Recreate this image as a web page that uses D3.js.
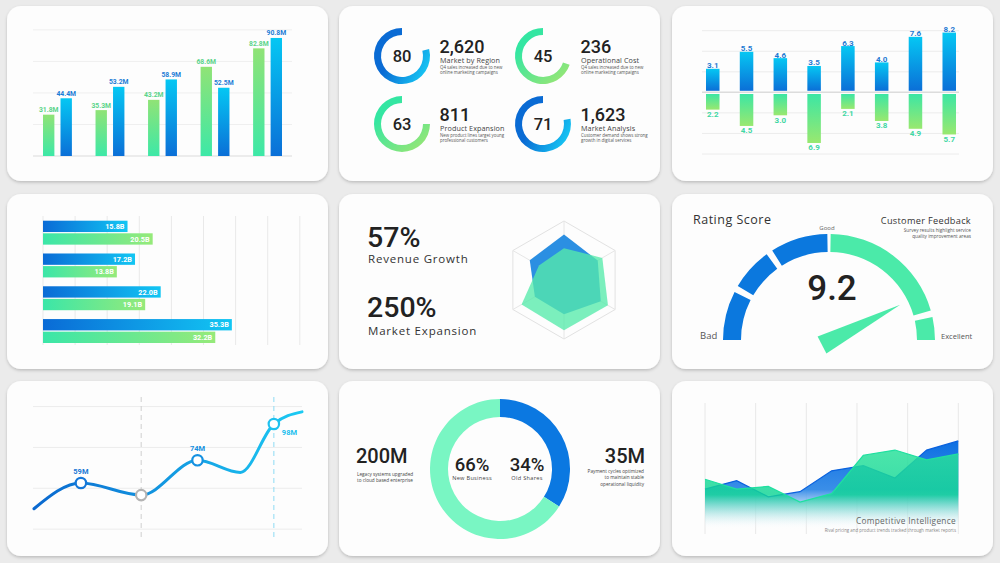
<!DOCTYPE html>
<html>
<head>
<meta charset="utf-8">
<script src="https://cdn.jsdelivr.net/npm/d3@7"></script>
<style>
  html, body { margin: 0; padding: 0; background: #ebebeb; }
  svg { display: block; font-family: 'Open Sans', sans-serif; }
</style>
</head>
<body>
<script>
// ---- panel 1: grouped bars
const salesGroups = ['2019', '2020', '2021', '2022', '2023'];
const salesGreen = [31.8, 35.3, 43.2, 68.6, 82.8];
const salesBlue = [44.4, 53.2, 58.9, 52.5, 90.8];
const salesGrid = [0, 24.25, 48.5, 72.75, 97];

// ---- panel 2: kpi rings
const kpiScores = [80, 45, 63, 71];
const kpiRing = [0.79, 0.70, 0.75, 0.78];
const kpiTotals = ['2,620', '236', '811', '1,623'];
const kpiTitles = ['Market by Region', 'Operational Cost', 'Product Expansion', 'Market Analysis'];
const kpiNotes = [
  ['Q4 sales increased due to new', 'online marketing campaigns'],
  ['Q4 sales increased due to new', 'online marketing campaigns'],
  ['New product lines target young', 'professional customers'],
  ['Customer demand shows strong', 'growth in digital services']
];
const kpiTones = ['blue', 'green', 'green', 'blue'];

// ---- panel 3: up / down bars
const splitCats = ['A', 'B', 'C', 'D', 'E', 'F', 'G', 'H'];
const splitUp = [3.1, 5.5, 4.6, 3.5, 6.3, 4.0, 7.6, 8.2];
const splitDown = [2.2, 4.5, 3.0, 6.9, 2.1, 3.8, 4.9, 5.7];
const splitGrid = [-3, -2, -1, 0, 1, 2, 3];

// ---- panel 4: horizontal bars
const rangeCats = ['A', 'B', 'C', 'D'];
const rangeBlue = [15.8, 17.2, 22.0, 35.3];
const rangeGreen = [20.5, 13.8, 19.1, 32.2];
const rangeTicks = [0, 6, 12, 18, 24, 30, 36, 42, 48];

// ---- panel 5: stats + radar
const statValues = ['57%', '250%'];
const statLabels = ['Revenue Growth', 'Market Expansion'];
const radarBlue = [0.77, 0.66, 0.72, 0.58, 0.57, 0.67];
const radarGreen = [0.54, 0.75, 0.86, 0.85, 0.83, 0.49];

// ---- panel 6: gauge
const ratingScore = 9.2;
const ratingSegments = [[0, 1.5], [1.7, 3.0], [3.2, 4.95], [5.05, 9.1], [9.3, 10]];
const ratingTones = ['blue', 'blue', 'blue', 'green', 'green'];

// ---- panel 7: smooth line
const trendX = [0, 1.75, 4, 6.1, 7.7, 8.95, 10];
const trendY = [42, 59, 51, 74, 66, 98, 106];
const trendLabels = ['', '59M', '', '74M', '', '98M', ''];
const trendMarkers = [1, 2, 3, 5];
const trendGuides = [4, 8.95];
const trendGrid = [28.5, 55.5, 82.5, 109.5];

// ---- panel 8: donut
const shareNames = ['Old Shares', 'New Business'];
const shareValues = [34, 66];

// ---- panel 9: areas
const rivalX = [0, 1, 2, 3, 4, 5, 6, 7, 8];
const rivalBlue = [31.5, 38, 25.5, 29.5, 45.5, 49.5, 40, 61.5, 68.5];
const rivalGreen = [39, 31.5, 33.5, 21.5, 28, 57.5, 61.5, 54, 58.5];
const rivalGrid = [0, 1.6, 3.2, 4.8, 6.4, 8];

const NUM = 'Roboto, sans-serif';
const BLUE = '#0b78de';
const GREEN = '#4beaa9';

const svg = d3.select('body').append('svg')
    .attr('width', 1000)
    .attr('height', 563);
const defs = svg.append('defs');

function grad(id, stops, x1, y1, x2, y2, units) {
  const g = defs.append('linearGradient').attr('id', id)
      .attr('x1', x1).attr('y1', y1).attr('x2', x2).attr('y2', y2);
  if (units) g.attr('gradientUnits', units);
  stops.forEach(s => g.append('stop').attr('offset', s[0]).attr('stop-color', s[1])
      .attr('stop-opacity', s[2] === undefined ? 1 : s[2]));
}
grad('barGreenV', [[0, '#90e376'], [1, '#3de8a7']], 0, 0, 0, 1);
grad('barBlueV', [[0, '#05c7f3'], [1, '#0b6fd7']], 0, 0, 0, 1);
grad('downGreenV', [[0, '#3ce6a4'], [1, '#99e86f']], 0, 0, 0, 1);
grad('hBlue', [[0, '#0a6bd6'], [1, '#12c6f3']], 0, 0, 1, 0);
grad('hGreen', [[0, '#3be6a8'], [1, '#96ea7a']], 0, 0, 1, 0);
grad('ringBlue', [[0, '#0a6bd4'], [1, '#16c2f2']], 0.4, 0.3, 1, 0.6);
grad('ringGreen', [[0, '#34e6a2'], [1, '#96e676']], 0.3, 0.2, 0.9, 0.9);
grad('trendLine', [[0, '#0a68cf'], [1, '#1ccaf3']], 34, 0, 302, 0, 'userSpaceOnUse');
grad('rivalBlueFill', [[0, '#0c6fe2'], [0.55, '#3a8ee8'], [1, '#ffffff', 0]], 0, 440, 0, 530, 'userSpaceOnUse');
grad('rivalGreenFill', [[0, '#2ee39c', 0.85], [0.6, '#0fd595', 0.82], [1, '#ffffff', 0]], 0, 445, 0, 528, 'userSpaceOnUse');

const shadow = defs.append('filter').attr('id', 'shadow')
    .attr('x', -0.05).attr('y', -0.05).attr('width', 1.1).attr('height', 1.15);
shadow.append('feDropShadow').attr('dx', 0).attr('dy', 1.5)
    .attr('stdDeviation', 1.8).attr('flood-color', '#000').attr('flood-opacity', 0.2);

// cards
const cardCols = [7, 339, 672];
const cardRows = [6, 194, 381];
cardRows.forEach(y => cardCols.forEach(x => {
  svg.append('rect')
      .attr('x', x).attr('y', y).attr('width', 321).attr('height', 175)
      .attr('rx', 14).attr('fill', '#fdfdfd').attr('filter', 'url(#shadow)');
}));

// ================= panel 1 =================
const p1 = svg.append('g');
const p1x0 = d3.scaleBand().domain(salesGroups).range([43, 282]).paddingInner(0.45).paddingOuter(0);
const p1x1 = d3.scaleBand().domain(['green', 'blue']).range([0, p1x0.bandwidth()]).paddingInner(0.35);
const p1y = d3.scaleLinear().domain([0, 100]).range([156, 26]);

p1.selectAll('line.grid').data(salesGrid).enter().append('line')
    .attr('x1', 33).attr('x2', 292)
    .attr('y1', d => p1y(d)).attr('y2', d => p1y(d))
    .attr('stroke', d => d === 0 ? '#e6e6e6' : '#efefef')
    .attr('stroke-width', d => d === 0 ? 1.5 : 1);

const salesBars = [];
salesGroups.forEach((g, i) => {
  salesBars.push({ g, key: 'green', v: salesGreen[i] });
  salesBars.push({ g, key: 'blue', v: salesBlue[i] });
});
p1.selectAll('rect').data(salesBars).enter().append('rect')
    .attr('x', d => p1x0(d.g) + p1x1(d.key))
    .attr('y', d => p1y(d.v))
    .attr('width', p1x1.bandwidth())
    .attr('height', d => p1y(0) - p1y(d.v))
    .attr('fill', d => d.key === 'green' ? 'url(#barGreenV)' : 'url(#barBlueV)');
p1.selectAll('text').data(salesBars).enter().append('text')
    .attr('x', d => p1x0(d.g) + p1x1(d.key) + p1x1.bandwidth() / 2)
    .attr('y', d => p1y(d.v) - 2.5)
    .attr('text-anchor', 'middle')
    .attr('font-family', NUM).attr('font-weight', 700).attr('font-size', 6.8)
    .attr('fill', d => d.key === 'green' ? '#5ad489' : '#1c7cd6')
    .text(d => d.v.toFixed(1) + 'M');

// ================= panel 2 =================
const p2 = svg.append('g');
const kpiCenters = [[402, 56], [543, 56], [402, 124], [543, 124]];
const ring = d3.arc().innerRadius(21).outerRadius(28);
kpiScores.forEach((score, i) => {
  const [cx, cy] = kpiCenters[i];
  const g = p2.append('g').attr('transform', `translate(${cx},${cy})`);
  g.append('path')
      .attr('d', ring({ startAngle: 2 * Math.PI * (1 - kpiRing[i]), endAngle: 2 * Math.PI }))
      .attr('fill', kpiTones[i] === 'blue' ? 'url(#ringBlue)' : 'url(#ringGreen)');
  g.append('text').attr('text-anchor', 'middle').attr('dy', '0.36em')
      .attr('font-family', NUM).attr('font-weight', 500).attr('font-size', 16.5)
      .attr('fill', '#222').text(score);
  g.append('text').attr('x', 37.5).attr('y', -3.5)
      .attr('font-family', NUM).attr('font-weight', 500).attr('font-size', 18)
      .attr('fill', '#222').text(kpiTotals[i]);
  g.append('text').attr('x', 38).attr('y', 7)
      .attr('font-size', 7.2).attr('letter-spacing', 0.1).attr('fill', '#444')
      .text(kpiTitles[i]);
  kpiNotes[i].forEach((t, j) => {
    g.append('text').attr('x', 38).attr('y', 12.8 + j * 4.9)
        .attr('font-size', 4.4).attr('fill', '#555').text(t);
  });
});

// ================= panel 3 =================
const p3 = svg.append('g');
const p3x = d3.scaleBand().domain(splitCats).range([706, 956]).paddingInner(0.6).paddingOuter(0);
const p3up = d3.scaleLinear().domain([0, 10]).range([90.8, 19.8]);
const p3down = d3.scaleLinear().domain([0, 10]).range([94, 165]);
const p3grid = d3.scaleLinear().domain([-3, 3]).range([154, 30.7]);

p3.selectAll('line').data(splitGrid).enter().append('line')
    .attr('x1', 702).attr('x2', 959)
    .attr('y1', d => p3grid(d)).attr('y2', d => p3grid(d))
    .attr('stroke', d => d === 0 ? '#dcdcdc' : '#ececec')
    .attr('stroke-width', d => d === 0 ? 1.5 : 1);

p3.selectAll('rect.up').data(splitUp).enter().append('rect')
    .attr('x', (d, i) => p3x(splitCats[i]))
    .attr('y', d => p3up(d))
    .attr('width', p3x.bandwidth())
    .attr('height', d => p3up(0) - p3up(d))
    .attr('fill', 'url(#barBlueV)');
p3.selectAll('rect.down').data(splitDown).enter().append('rect')
    .attr('x', (d, i) => p3x(splitCats[i]))
    .attr('y', p3down(0))
    .attr('width', p3x.bandwidth())
    .attr('height', d => p3down(d) - p3down(0))
    .attr('fill', 'url(#downGreenV)');
p3.selectAll('text.up').data(splitUp).enter().append('text')
    .attr('x', (d, i) => p3x(splitCats[i]) + p3x.bandwidth() / 2)
    .attr('y', d => p3up(d) - 0.5)
    .attr('text-anchor', 'middle')
    .attr('font-family', NUM).attr('font-weight', 700).attr('font-size', 8)
    .attr('fill', '#1d79d3').text(d => d.toFixed(1));
p3.selectAll('text.down').data(splitDown).enter().append('text')
    .attr('x', (d, i) => p3x(splitCats[i]) + p3x.bandwidth() / 2)
    .attr('y', d => p3down(d) + 7.5)
    .attr('text-anchor', 'middle')
    .attr('font-family', NUM).attr('font-weight', 700).attr('font-size', 8)
    .attr('fill', '#3fd7a3').text(d => d.toFixed(1));

// ================= panel 4 =================
const p4 = svg.append('g');
const p4x = d3.scaleLinear().domain([0, 48]).range([43, 299.8]);
const p4y0 = d3.scaleBand().domain(rangeCats).range([220.7, 343]).paddingInner(0.27).paddingOuter(0);
const p4y1 = d3.scaleBand().domain(['blue', 'green']).range([0, p4y0.bandwidth()]).paddingInner(0.1);

p4.selectAll('line').data(rangeTicks).enter().append('line')
    .attr('x1', d => p4x(d)).attr('x2', d => p4x(d))
    .attr('y1', 216).attr('y2', 345)
    .attr('stroke', '#e9e9e9');

const rangeBars = [];
rangeCats.forEach((c, i) => {
  rangeBars.push({ c, key: 'blue', v: rangeBlue[i] });
  rangeBars.push({ c, key: 'green', v: rangeGreen[i] });
});
p4.selectAll('rect').data(rangeBars).enter().append('rect')
    .attr('x', p4x(0))
    .attr('y', d => p4y0(d.c) + p4y1(d.key))
    .attr('width', d => p4x(d.v) - p4x(0))
    .attr('height', p4y1.bandwidth())
    .attr('fill', d => d.key === 'blue' ? 'url(#hBlue)' : 'url(#hGreen)');
p4.selectAll('text').data(rangeBars).enter().append('text')
    .attr('x', d => p4x(d.v) - 3)
    .attr('y', d => p4y0(d.c) + p4y1(d.key) + p4y1.bandwidth() / 2)
    .attr('dy', '0.36em')
    .attr('text-anchor', 'end')
    .attr('font-family', NUM).attr('font-weight', 700).attr('font-size', 7.3)
    .attr('fill', '#fff').text(d => d.v.toFixed(1) + 'B');

// ================= panel 5 =================
const p5 = svg.append('g');
statValues.forEach((v, i) => {
  p5.append('text').attr('x', 367).attr('y', 246.5 + i * 70.5)
      .attr('font-family', NUM).attr('font-weight', 500).attr('font-size', 28.5)
      .attr('fill', '#222').text(v);
  p5.append('text').attr('x', 368).attr('y', 263 + i * 71.5)
      .attr('font-size', 11.5).attr('letter-spacing', 0.8)
      .attr('fill', '#333').text(statLabels[i]);
});
const radarC = [564, 280];
const radarR = d3.scaleLinear().domain([0, 1]).range([0, 59]);
const radarPoint = (v, k) => {
  const a = k * Math.PI / 3;
  return [radarC[0] + radarR(v) * Math.sin(a), radarC[1] - radarR(v) * Math.cos(a)];
};
const hexOuter = d3.range(6).map(k => radarPoint(1, k));
p5.append('polygon').attr('points', hexOuter.map(p => p.join(',')).join(' '))
    .attr('fill', 'none').attr('stroke', '#e2e2e2').attr('stroke-width', 1);
p5.selectAll('line.spoke').data(hexOuter).enter().append('line')
    .attr('x1', radarC[0]).attr('y1', radarC[1])
    .attr('x2', d => d[0]).attr('y2', d => d[1])
    .attr('stroke', '#e6e6e6');
p5.append('polygon')
    .attr('points', radarBlue.map((v, k) => radarPoint(v, k).join(',')).join(' '))
    .attr('fill', '#2b8fe2');
p5.append('polygon')
    .attr('points', radarGreen.map((v, k) => radarPoint(v, k).join(',')).join(' '))
    .attr('fill', '#56ebab').attr('fill-opacity', 0.78);

// ================= panel 6 =================
const p6 = svg.append('g');
const gaugeC = [829, 340];
const gaugeA = d3.scaleLinear().domain([0, 10]).range([-Math.PI / 2, Math.PI / 2]);
const needleSweep = d3.scaleLinear().domain([0, 10]).range([-90, 76]);
const gaugeArc = d3.arc().innerRadius(88).outerRadius(106);
p6.selectAll('path.seg').data(ratingSegments).enter().append('path')
    .attr('transform', `translate(${gaugeC})`)
    .attr('d', d => gaugeArc({ startAngle: gaugeA(d[0]), endAngle: gaugeA(d[1]) }))
    .attr('fill', (d, i) => ratingTones[i] === 'blue' ? BLUE : GREEN);

const na = needleSweep(ratingScore) * Math.PI / 180;
const pivot = [gaugeC[0] - 7, gaugeC[1] + 5];
const tip = [pivot[0] + 88 * Math.sin(na), pivot[1] - 88 * Math.cos(na)];
const baseA = [pivot[0] + 9.6 * Math.cos(na), pivot[1] + 9.6 * Math.sin(na)];
const baseB = [pivot[0] - 9.6 * Math.cos(na), pivot[1] - 9.6 * Math.sin(na)];
p6.append('polygon').attr('points', [tip, baseA, baseB].map(p => p.join(',')).join(' '))
    .attr('fill', GREEN);

p6.append('text').attr('x', 832).attr('y', 300).attr('text-anchor', 'middle')
    .attr('font-family', NUM).attr('font-weight', 500).attr('font-size', 35)
    .attr('fill', '#222').text(ratingScore.toFixed(1));
p6.append('text').attr('x', 693).attr('y', 224)
    .attr('font-size', 12.5).attr('letter-spacing', 0.5).attr('fill', '#333').text('Rating Score');
p6.append('text').attr('x', 971).attr('y', 224).attr('text-anchor', 'end')
    .attr('font-size', 9.2).attr('letter-spacing', 0.3).attr('fill', '#333').text('Customer Feedback');
['Survey results highlight service', 'quality improvement areas'].forEach((t, j) => {
  p6.append('text').attr('x', 971).attr('y', 231.5 + j * 6).attr('text-anchor', 'end')
      .attr('font-size', 4.7).attr('fill', '#555').text(t);
});
p6.append('text').attr('x', 827).attr('y', 229.5).attr('text-anchor', 'middle')
    .attr('font-size', 6).attr('fill', '#666').text('Good');
p6.append('text').attr('x', 700).attr('y', 339)
    .attr('font-size', 9.5).attr('fill', '#555').text('Bad');
p6.append('text').attr('x', 941).attr('y', 339)
    .attr('font-size', 7.5).attr('fill', '#555').text('Excellent');

// ================= panel 7 =================
const p7 = svg.append('g');
const p7x = d3.scaleLinear().domain([0, 10]).range([34, 302]);
const p7y = d3.scaleLinear().domain([59, 98]).range([483, 424]);
p7.selectAll('line.grid').data(trendGrid).enter().append('line')
    .attr('x1', 33).attr('x2', 302)
    .attr('y1', d => p7y(d)).attr('y2', d => p7y(d))
    .attr('stroke', '#ececec');
p7.selectAll('line.guide').data(trendGuides).enter().append('line')
    .attr('x1', d => p7x(d)).attr('x2', d => p7x(d))
    .attr('y1', 397).attr('y2', 537)
    .attr('stroke', (d, i) => i === 0 ? '#cfcfcf' : '#8edcf4')
    .attr('stroke-dasharray', '5,4');
const trendPts = trendX.map((x, i) => [x, trendY[i]]);
p7.append('path')
    .attr('d', d3.line().x(d => p7x(d[0])).y(d => p7y(d[1])).curve(d3.curveMonotoneX)(trendPts))
    .attr('fill', 'none').attr('stroke', 'url(#trendLine)')
    .attr('stroke-width', 3).attr('stroke-linecap', 'round');
const markerColors = ['#1577d8', '#b3b3b3', '#1591e1', '#1fc1ef'];
p7.selectAll('circle').data(trendMarkers).enter().append('circle')
    .attr('cx', i => p7x(trendX[i])).attr('cy', i => p7y(trendY[i]))
    .attr('r', 5.2).attr('fill', '#fff')
    .attr('stroke', (i, k) => markerColors[k]).attr('stroke-width', 2.2);
p7.selectAll('text').data(trendMarkers.filter(i => trendLabels[i])).enter().append('text')
    .attr('x', i => trendY[i] > 90 ? p7x(trendX[i]) + 8 : p7x(trendX[i]))
    .attr('y', i => trendY[i] > 90 ? p7y(trendY[i]) + 10.5 : p7y(trendY[i]) - 9)
    .attr('text-anchor', i => trendY[i] > 90 ? 'start' : 'middle')
    .attr('font-family', NUM).attr('font-weight', 700).attr('font-size', 7.5)
    .attr('fill', i => trendY[i] > 90 ? '#22c0ee' : (trendY[i] > 70 ? '#1590e0' : '#1a78d6'))
    .text(i => trendLabels[i]);

// ================= panel 8 =================
const p8 = svg.append('g').attr('transform', 'translate(500,469)');
const pie = d3.pie().sort(null)(shareValues);
const donutArc = d3.arc().innerRadius(52).outerRadius(70);
p8.selectAll('path').data(pie).enter().append('path')
    .attr('d', donutArc)
    .attr('fill', (d, i) => i === 0 ? '#0b78e1' : '#79f6c3');
[[-28, 1], [27, 0]].forEach(([dx, idx]) => {
  p8.append('text').attr('x', dx).attr('y', 1.5).attr('text-anchor', 'middle')
      .attr('font-family', NUM).attr('font-weight', 500).attr('font-size', 18.5)
      .attr('fill', '#222').text(shareValues[idx] + '%');
  p8.append('text').attr('x', dx).attr('y', 10.5).attr('text-anchor', 'middle')
      .attr('font-size', 5.6).attr('letter-spacing', 0.3).attr('fill', '#444').text(shareNames[idx]);
});
const p8s = svg.append('g');
p8s.append('text').attr('x', 356).attr('y', 463)
    .attr('font-family', NUM).attr('font-weight', 500).attr('font-size', 20)
    .attr('fill', '#222').text('200M');
['Legacy systems upgraded', 'to cloud based enterprise'].forEach((t, j) => {
  p8s.append('text').attr('x', 357).attr('y', 475.5 + j * 6.6)
      .attr('font-size', 4.7).attr('fill', '#444').text(t);
});
p8s.append('text').attr('x', 645).attr('y', 463).attr('text-anchor', 'end')
    .attr('font-family', NUM).attr('font-weight', 500).attr('font-size', 20)
    .attr('fill', '#222').text('35M');
['Payment cycles optimized', 'to maintain stable', 'operational liquidity'].forEach((t, j) => {
  p8s.append('text').attr('x', 644).attr('y', 472.5 + j * 6.6).attr('text-anchor', 'end')
      .attr('font-size', 4.7).attr('fill', '#444').text(t);
});

// ================= panel 9 =================
const p9 = svg.append('g');
const p9x = d3.scaleLinear().domain([0, 8]).range([705, 958.3]);
const p9y = d3.scaleLinear().domain([0, 100]).range([530, 400]);
p9.selectAll('line').data(rivalGrid).enter().append('line')
    .attr('x1', d => p9x(d)).attr('x2', d => p9x(d))
    .attr('y1', 403).attr('y2', 534)
    .attr('stroke', '#e8e8e8');
const area = d3.area().x((d, i) => p9x(rivalX[i])).y0(p9y(0)).y1(d => p9y(d));
const line9 = d3.line().x((d, i) => p9x(rivalX[i])).y(d => p9y(d));
p9.append('path').attr('d', area(rivalBlue)).attr('fill', 'url(#rivalBlueFill)');
p9.append('path').attr('d', line9(rivalBlue)).attr('fill', 'none')
    .attr('stroke', '#0a62de').attr('stroke-width', 1.2);
p9.append('path').attr('d', area(rivalGreen)).attr('fill', 'url(#rivalGreenFill)');
p9.append('path').attr('d', line9(rivalGreen)).attr('fill', 'none')
    .attr('stroke', '#1fe0a0').attr('stroke-width', 1.2);
p9.append('text').attr('x', 956).attr('y', 524).attr('text-anchor', 'end')
    .attr('font-size', 8.3).attr('letter-spacing', 0.3).attr('fill', '#666')
    .text('Competitive Intelligence');
p9.append('text').attr('x', 956).attr('y', 531.5).attr('text-anchor', 'end')
    .attr('font-size', 4.4).attr('fill', '#888')
    .text('Rival pricing and product trends tracked through market reports');
</script>
</body>
</html>
